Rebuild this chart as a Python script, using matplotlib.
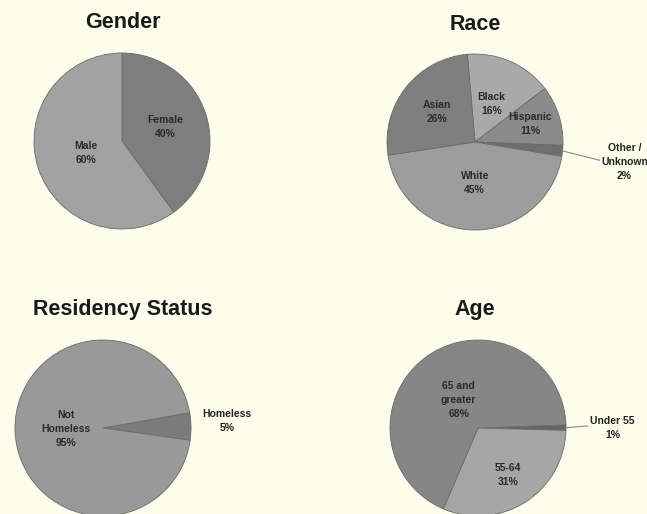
# four grey pie charts: gender, race, residency status, age

import numpy as np
import matplotlib
matplotlib.use('Agg')
import matplotlib.pyplot as plt

plt.rcParams['font.family'] = ['Liberation Sans', 'DejaVu Sans']

# data
gender_labels = ['Female', 'Male']
gender_values = [40, 60]

race_labels = ['Black', 'Hispanic', 'Other /\nUnknown', 'White', 'Asian']
race_values = [16, 11, 2, 45, 26]

residency_labels = ['Homeless', 'Not\nHomeless']
residency_values = [5, 95]

age_labels = ['Under 55', '55-64', '65 and\ngreater']
age_values = [1, 31, 68]

# styles
bg = '#fdfdec'
W, H = 647, 514
radius = 88
title_size = 15.5
label_size = 7.5

panels = [
    # title, labels, values, colors, center(px), startangle, label dist, outside label offsets
    dict(title='Gender', labels=gender_labels, values=gender_values,
         colors=['#7e7e7e', '#a2a2a2'], center=(122, 141), start=90,
         dist=[0.52, 0.43], outside={}, leader=False),
    dict(title='Race', labels=race_labels, values=race_values,
         colors=['#a9a9a9', '#8b8b8b', '#6f6f6f', '#9d9d9d', '#7f7f7f'],
         center=(475, 142), start=95,
         dist=[0.47, 0.66, None, 0.47, 0.55], outside={2: (1.70, -0.23)}, leader=True),
    dict(title='Residency Status', labels=residency_labels, values=residency_values,
         colors=['#7b7b7b', '#999999'], center=(103, 428), start=10,
         dist=[None, 0.42], outside={0: (1.41, 0.08)}, leader=False),
    dict(title='Age', labels=age_labels, values=age_values,
         colors=['#666666', '#a6a6a6', '#868686'], center=(478, 428), start=2,
         dist=[None, 0.64, 0.39], outside={0: (1.53, 0.0)}, leader=True),
]
title_pos = [(123, 23), (475, 25), (123, 310), (475, 310)]

fig = plt.figure(figsize=(W / 100, H / 100), dpi=100, facecolor=bg)
ax = fig.add_axes([0, 0, 1, 1])
ax.set_facecolor(bg)

for p, tpos in zip(panels, title_pos):
    cx, cy = p['center'][0], H - p['center'][1]
    wedges, _ = ax.pie(p['values'], colors=p['colors'], startangle=p['start'],
                       counterclock=False, center=(cx, cy), radius=radius,
                       wedgeprops=dict(edgecolor='#6a6a6a', linewidth=0.6))
    for i, w in enumerate(wedges):
        mid = np.deg2rad((w.theta1 + w.theta2) / 2)
        pct = '%d%%' % p['values'][i]
        txt = p['labels'][i] + '\n' + pct
        if i in p['outside']:
            ox, oy = p['outside'][i]
            ex, ey = cx + radius * np.cos(mid), cy + radius * np.sin(mid)
            tx, ty = cx + ox * radius, cy + oy * radius
            if p['leader']:
                ax.plot([ex, tx - 25], [ey, ty + 2], color='#888888', lw=0.8)
            ax.text(tx, ty, txt, ha='center', va='center', fontsize=label_size,
                    fontweight='bold', color='#222222', linespacing=1.5)
        else:
            d = p['dist'][i]
            ax.text(cx + d * radius * np.cos(mid), cy + d * radius * np.sin(mid), txt,
                    ha='center', va='center', fontsize=label_size,
                    fontweight='bold', color='#2a2a2a', linespacing=1.5)
    ax.text(tpos[0], H - tpos[1], p['title'], ha='center', va='center',
            fontsize=title_size, fontweight='bold', color='#1a1a1a')

ax.set_xlim(0, W)
ax.set_ylim(0, H)
ax.set_aspect('equal')
ax.axis('off')

fig.savefig('out.png', dpi=100, facecolor=bg)
